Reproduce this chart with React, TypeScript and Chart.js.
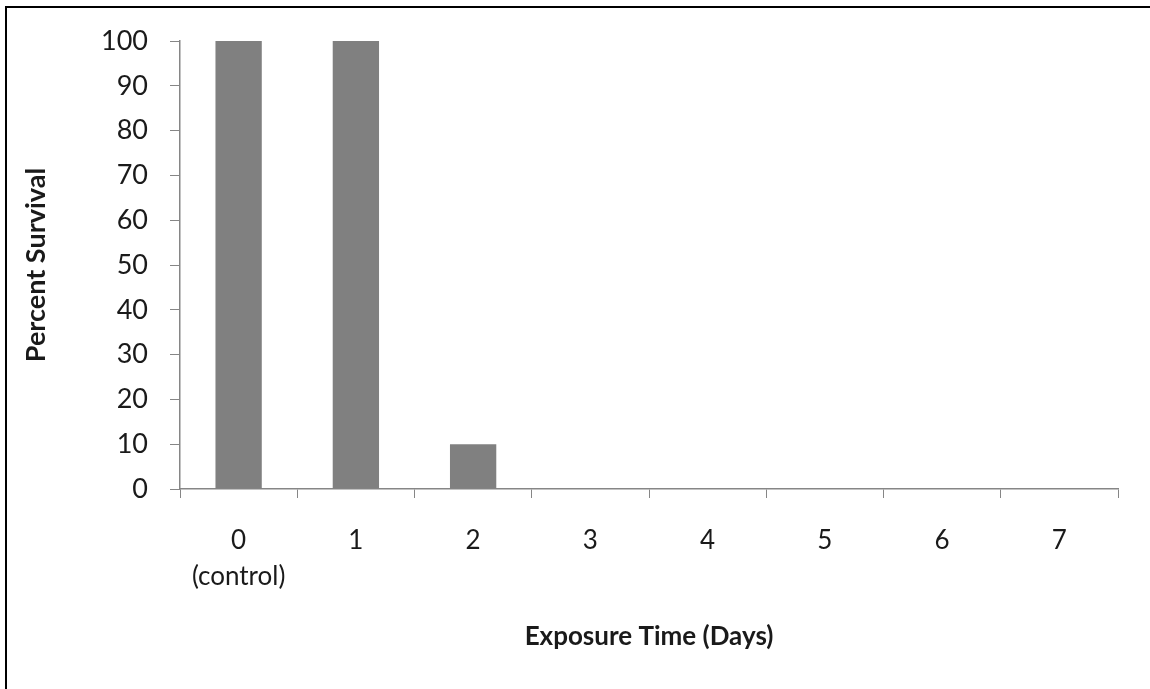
import React, { useEffect, useRef } from "react";
import { Chart, registerables } from "chart.js";

Chart.register(...registerables);

const categories: (string | string[])[] = [["0", "(control)"], "1", "2", "3", "4", "5", "6", "7"];
const survival: number[] = [100, 100, 10, 0, 0, 0, 0, 0];
const yTitle = "Percent Survival";
const xTitle = "Exposure Time (Days)";

const FONT = "Lato, 'Open Sans', sans-serif";

export default function App() {
  const ref = useRef<HTMLCanvasElement | null>(null);

  useEffect(() => {
    if (!ref.current) return;
    const chart = new Chart(ref.current, {
      type: "bar",
      data: {
        labels: categories,
        datasets: [
          {
            data: survival,
            backgroundColor: "#808080",
            borderWidth: 0,
            categoryPercentage: 1,
            barPercentage: 0.395,
          },
        ],
      },
      options: {
        animation: false,
        responsive: false,
        devicePixelRatio: 1,
        layout: { padding: { left: 0, top: 41, right: 32, bottom: 0 } },
        plugins: {
          legend: { display: false },
          tooltip: { enabled: false },
        },
        scales: {
          x: {
            offset: true,
            grid: {
              offset: true,
              drawOnChartArea: false,
              drawTicks: true,
              tickLength: 9,
              color: "#868686",
            },
            border: { color: "#868686", width: 1.5 },
            ticks: {
              color: "#1a1a1a",
              padding: 24,
              maxRotation: 0,
              autoSkip: false,
              font: { family: FONT, size: 26, lineHeight: 1.4 },
            },
            title: {
              display: true,
              text: xTitle,
              color: "#1a1a1a",
              padding: { top: 0, bottom: 37 },
              font: { family: FONT, size: 26, weight: "bold", lineHeight: 1.2 },
            },
            afterFit: (scale: any) => {
              scale.height = 200;
            },
          },
          y: {
            min: 0,
            max: 100,
            grid: {
              drawOnChartArea: false,
              drawTicks: true,
              tickLength: 10,
              color: "#868686",
            },
            border: { color: "#868686", width: 1.5 },
            ticks: {
              stepSize: 10,
              color: "#1a1a1a",
              padding: 22,
              font: { family: FONT, size: 27 },
            },
            title: {
              display: true,
              text: yTitle,
              color: "#1a1a1a",
              padding: { top: 20, bottom: 0 },
              font: { family: FONT, size: 27, weight: "bold", lineHeight: 1.2 },
            },
            afterFit: (scale: any) => {
              scale.width = 180;
            },
          },
        },
      },
    });
    return () => chart.destroy();
  }, []);

  return (
    <div
      style={{
        position: "fixed",
        left: 0,
        top: 0,
        width: 1150,
        height: 689,
        background: "#fff",
        overflow: "hidden",
      }}
    >
      <div
        style={{
          position: "absolute",
          left: 5,
          top: 6,
          width: 1160,
          height: 700,
          boxSizing: "border-box",
          borderLeft: "2px solid #000",
          borderTop: "2px solid #000",
        }}
      />
      <canvas
        ref={ref}
        width={1150}
        height={689}
        style={{ position: "absolute", left: 0, top: 0, width: 1150, height: 689, display: "block" }}
      />
    </div>
  );
}
